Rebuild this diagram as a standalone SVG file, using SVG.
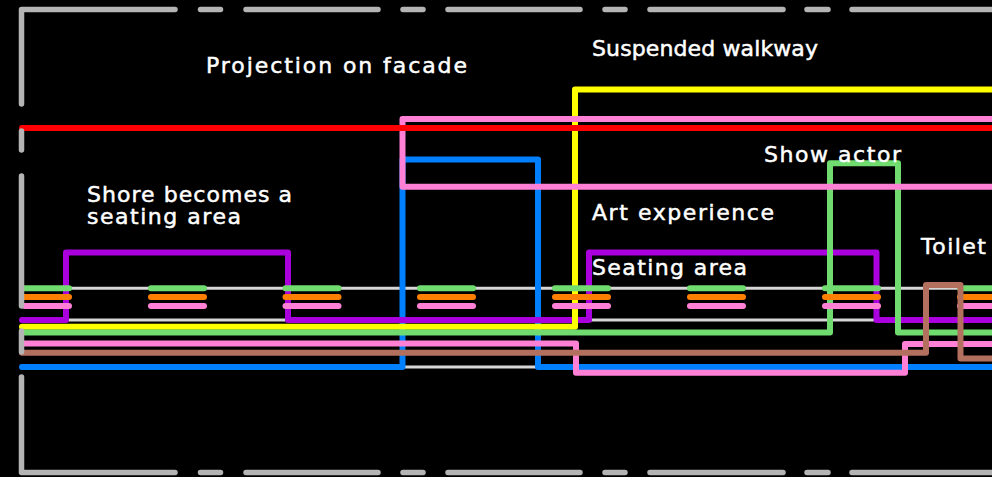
<svg xmlns="http://www.w3.org/2000/svg" width="992" height="477" viewBox="0 0 992 477">
<style>
.frame{fill:none;stroke:#b4b4b4;stroke-width:5.5;stroke-linecap:round;stroke-linejoin:round}
.track{fill:none;stroke:#d6d6d6;stroke-width:3}
.route{fill:none;stroke-width:6;stroke-linecap:round;stroke-linejoin:round}
.stub{fill:none;stroke-width:6;stroke-linecap:round}
.g{stroke:#70dc70}
.o{stroke:#ff8000}
.p{stroke:#ff80d5}
.lbl{fill:#ffffff;stroke:#ffffff;stroke-width:0.5;font-family:"DejaVu Sans","Liberation Sans",sans-serif;font-size:22px}
</style>
<defs>
<g id="station">
<line class="stub g" x1="-26.5" y1="288.3" x2="26.5" y2="288.3"/>
<line class="stub o" x1="-26.5" y1="297" x2="26.5" y2="297"/>
<line class="stub p" x1="-26.5" y1="306" x2="26.5" y2="306"/>
</g>
</defs>
<rect width="992" height="477" fill="#000000"/>
<g id="tracks">
<line class="track" x1="22" y1="288.3" x2="1000" y2="288.3"/>
<line class="track" x1="22" y1="320" x2="1000" y2="320"/>
<line class="track" x1="22" y1="367" x2="1000" y2="367"/>
</g>
<g id="connectors">
<path class="route" stroke="#0080ff" d="M22,367 H402.5 V159.5 H538 V367 H1000"/>
<path class="route" stroke="#aa00dd" d="M22,320 H66 V252.5 H288 V320 H589 V252.5 H876.5 V320 H1000"/>
<path class="route" stroke="#ffff00" d="M22,326.8 H575 V89.5 H1000"/>
<path class="route" stroke="#70dc70" d="M22,332.5 H830 V163.2 H898 V332.5 H1000"/>
<path class="route" stroke="#ff80d5" d="M22,343.5 H576 V372.7 H905 V344 H1000"/>
<path class="route" stroke="#ff80d5" d="M1000,119 H402.5 V186.7 H1000"/>
<path class="route" stroke="#ff0000" d="M22,128 H1000"/>
</g>
<g id="stations">
<line class="stub g" x1="24.5" y1="288.3" x2="69" y2="288.3"/>
<line class="stub o" x1="24.5" y1="297" x2="69" y2="297"/>
<line class="stub p" x1="24.5" y1="306" x2="69" y2="306"/>
<use href="#station" x="177.5"/>
<use href="#station" x="312"/>
<use href="#station" x="446.5"/>
<use href="#station" x="581.5"/>
<use href="#station" x="716.5"/>
<use href="#station" x="851.5"/>
<use href="#station" x="986.5"/>
</g>
<g id="connector-toilet">
<path class="route" stroke="#b3705f" d="M22,352.7 H926 V285 H960.5 V358.5 H1000"/>
</g>
<g id="frame">
<path class="frame" d="M21.5,104 V9.5 H175 M200.5,9.5 H220.5 M246,9.5 H378 M403,9.5 H423 M448,9.5 H580 M605,9.5 H625 M650,9.5 H783 M807,9.5 H828 M852,9.5 H1000 M21.5,131 V150 M21.5,176 V306 M21.5,331 V352 M21.5,377 V472.5 H175 M200.5,472.5 H220.5 M246,472.5 H378 M403,472.5 H423 M448,472.5 H580 M605,472.5 H625 M650,472.5 H783 M807,472.5 H828 M852,472.5 H1000"/>
</g>
<g id="label-projection"><text class="lbl" x="206" y="73" textLength="261">Projection on facade</text></g>
<g id="label-walkway"><text class="lbl" x="592" y="56" textLength="226">Suspended walkway</text></g>
<g id="label-actor"><text class="lbl" x="764" y="162" textLength="137">Show actor</text></g>
<g id="label-art"><text class="lbl" x="592" y="220" textLength="182">Art experience</text></g>
<g id="label-shore"><text class="lbl" x="87" y="202" textLength="205">Shore becomes a</text><text class="lbl" x="87" y="224" textLength="154">seating area</text></g>
<g id="label-seating"><text class="lbl" x="592" y="275" textLength="155">Seating area</text></g>
<g id="label-toilet"><text class="lbl" x="921" y="254" textLength="65">Toilet</text></g>
</svg>
